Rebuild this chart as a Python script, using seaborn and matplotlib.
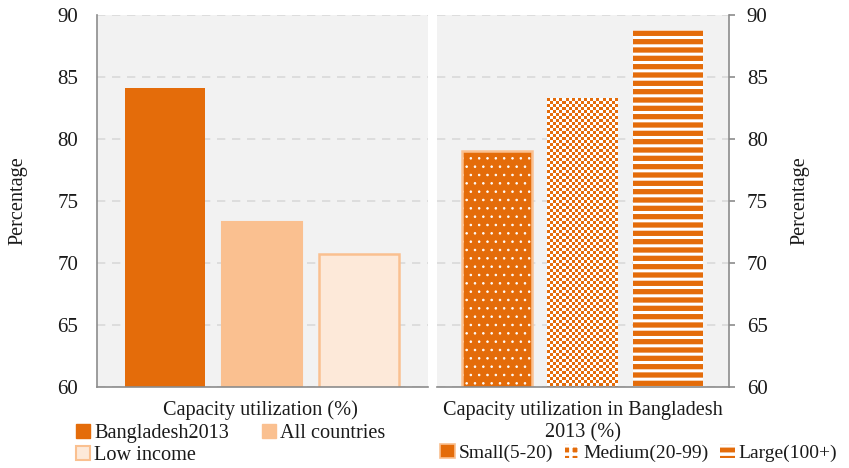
import numpy as np
import pandas as pd
import matplotlib
matplotlib.use("Agg")
import matplotlib.pyplot as plt
from matplotlib.colors import ListedColormap
from matplotlib.patches import Patch, Rectangle
import seaborn as sns

# ---- data ----
left_categories = ["Bangladesh2013", "All countries", "Low income"]
left_values = [84.1, 73.3, 70.7]
right_categories = ["Small(5-20)", "Medium(20-99)", "Large(100+)"]
right_values = [79.0, 83.3, 88.8]
y_ticks = [60, 65, 70, 75, 80, 85, 90]
left_xlabel = "Capacity utilization (%)"
right_xlabel = "Capacity utilization in Bangladesh\n2013 (%)"
ylabel = "Percentage"

DARK = "#e46c0a"
MID = "#fac090"
LIGHT = "#fde9d9"
BG = "#f2f2f2"
GRID = "#d9d9d9"
SPINE = "#8c8c8c"
TXT = "#1a1a1a"

sns.set_theme(style="white")
plt.rcParams["font.family"] = ["Liberation Serif", "DejaVu Serif"]
plt.rcParams["hatch.linewidth"] = 2.2
FS = 14.6
TFS = 15

W, H = 849, 468
fig = plt.figure(figsize=(W / 100, H / 100), dpi=100)
ax_top, ax_bot = 15, 387
axL = fig.add_axes([97 / W, (H - ax_bot) / H, (428 - 97) / W, (ax_bot - ax_top) / H])
axR = fig.add_axes([437 / W, (H - ax_bot) / H, (729 - 437) / W, (ax_bot - ax_top) / H])

dfL = pd.DataFrame({"cat": left_categories, "val": left_values})
dfR = pd.DataFrame({"cat": right_categories, "val": right_values})

sns.barplot(data=dfL, x="cat", y="val", hue="cat", order=left_categories,
            hue_order=left_categories, palette=[DARK, MID, LIGHT],
            width=0.82, ax=axL, legend=False, saturation=1)
sns.barplot(data=dfR, x="cat", y="val", hue="cat", order=right_categories,
            hue_order=right_categories, palette=[DARK, DARK, DARK],
            width=0.82, ax=axR, legend=False, saturation=1)

for ax in (axL, axR):
    ax.set_facecolor(BG)
    ax.set_ylim(60, 90)
    ax.set_xlim(-0.7, 2.71)
    ax.set_yticks(y_ticks)
    ax.set_xticks([])
    ax.set_xlabel("")
    ax.set_ylabel("")
    ax.grid(axis="y", color=GRID, linestyle=(0, (5, 4)), linewidth=1.2)
    ax.set_axisbelow(True)
    for s in ax.spines.values():
        s.set_visible(False)
    ax.spines["bottom"].set_visible(True)
    ax.spines["bottom"].set_color(SPINE)
    ax.spines["bottom"].set_linewidth(1.2)

# left bars styling
pL = axL.patches
pL[0].set_edgecolor(DARK); pL[0].set_linewidth(0)
pL[1].set_edgecolor(MID); pL[1].set_linewidth(1.5)
pL[2].set_edgecolor(MID); pL[2].set_linewidth(1.8)

# right bars styling
pR = axR.patches
# Small: dotted
pR[0].set_facecolor(DARK); pR[0].set_edgecolor("white"); pR[0].set_hatch(".."); pR[0].set_linewidth(0)
if hasattr(pR[0], "set_hatch_linewidth"):
    pR[0].set_hatch_linewidth(0.6)
axR.add_patch(Rectangle(pR[0].get_xy(), pR[0].get_width(), pR[0].get_height(),
                        fill=False, edgecolor=MID, linewidth=1.8, zorder=pR[0].get_zorder() + 0.1))
# Medium: checkerboard
b = pR[1]
x0, y0, w, h = b.get_x(), b.get_y(), b.get_width(), b.get_height()
(px0, py0), (px1, py1) = axR.transData.transform([(x0, y0), (x0 + w, y0 + h)])
nx = max(1, int(round((px1 - px0) / 3.0)))
ny = max(1, int(round((py1 - py0) / 3.0)))
checker = (np.indices((ny, nx)).sum(axis=0) % 2)
b.set_facecolor("none"); b.set_linewidth(0)
axR.imshow(checker, cmap=ListedColormap([DARK, "white"]), extent=[x0, x0 + w, y0, y0 + h],
           aspect="auto", interpolation="nearest", zorder=b.get_zorder() + 0.1, origin="upper")
# Large: horizontal stripes
pR[2].set_facecolor(DARK); pR[2].set_edgecolor("white"); pR[2].set_hatch("--"); pR[2].set_linewidth(0)

for ax in (axL, axR):
    ax.set_ylim(60, 90)
    ax.set_xlim(-0.7, 2.71)

# y axes
axL.spines["left"].set_visible(True)
axL.spines["left"].set_color(SPINE)
axL.spines["left"].set_linewidth(1.2)
axL.tick_params(axis="y", left=False, length=0, labelsize=TFS, pad=13.5, colors=TXT)
axR.spines["right"].set_visible(True)
axR.spines["right"].set_color(SPINE)
axR.spines["right"].set_linewidth(1.2)
axR.yaxis.tick_right()
axR.tick_params(axis="y", right=True, length=4.3, width=1.2, color=SPINE, labelsize=TFS, pad=8.5,
                labelcolor=TXT)

fig.text(18 / W, 1 - 201 / H, ylabel, rotation=90, ha="center", va="center", fontsize=FS, color=TXT)
fig.text(800 / W, 1 - 201 / H, ylabel, rotation=90, ha="center", va="center", fontsize=FS, color=TXT)

fig.text(260 / W, 1 - 410 / H, left_xlabel, ha="center", va="center", fontsize=FS, color=TXT)
fig.text(583 / W, 1 - 422 / H, right_xlabel, ha="center", va="center", fontsize=FS, color=TXT,
         linespacing=1.2)

# column-major order so rows read: Bangladesh2013, All countries / Low income
handlesL = [Patch(facecolor=DARK, edgecolor=DARK),
            Patch(facecolor=LIGHT, edgecolor=MID, linewidth=1.5),
            Patch(facecolor=MID, edgecolor=MID)]
labelsL = [left_categories[0], left_categories[2], left_categories[1]]
legL = fig.legend(handlesL, labelsL, loc="upper left", bbox_to_anchor=(76 / W, 1 - 424 / H),
                  ncol=2, frameon=False, fontsize=FS, handlelength=0.7, handleheight=0.7,
                  handletextpad=0.2, columnspacing=1.6, labelspacing=0.15, borderpad=0,
                  borderaxespad=0)
handlesR = [Patch(facecolor=DARK, edgecolor=MID, linewidth=1.2),
            Patch(facecolor=DARK, edgecolor="white", hatch="++", linewidth=0),
            Patch(facecolor=DARK, edgecolor="white", hatch="--", linewidth=0)]
legR = fig.legend(handlesR, right_categories, loc="upper left", bbox_to_anchor=(440 / W, 1 - 444 / H),
                  ncol=3, frameon=False, fontsize=14.0, handlelength=0.75, handleheight=0.75,
                  handletextpad=0.2, columnspacing=0.6, borderpad=0, borderaxespad=0)
for hnd in legR.legend_handles[1:]:
    if hasattr(hnd, "set_hatch_linewidth"):
        hnd.set_hatch_linewidth(2.5)
for t in legL.get_texts() + legR.get_texts():
    t.set_color(TXT)

fig.savefig("out.png", dpi=100)
